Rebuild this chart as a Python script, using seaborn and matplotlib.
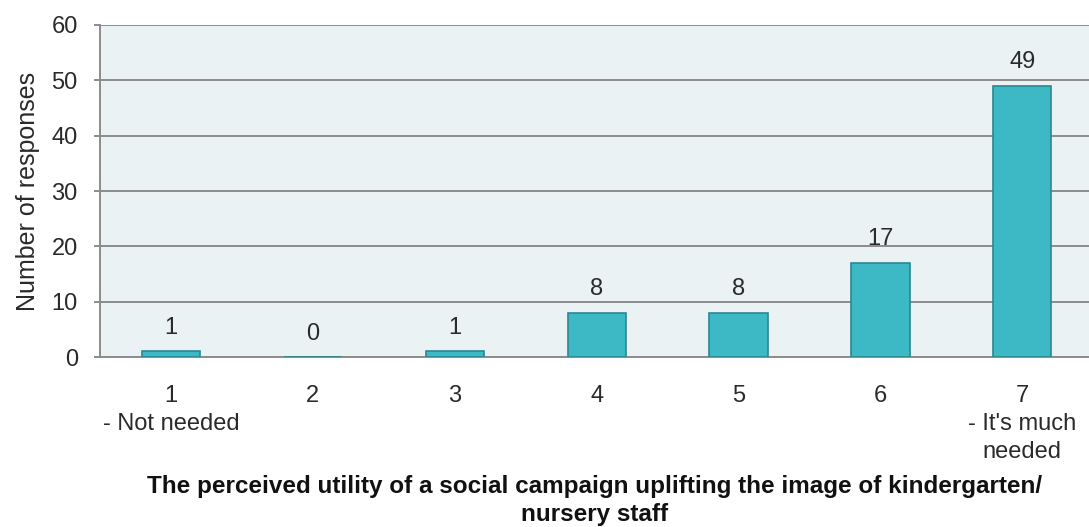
import matplotlib
matplotlib.use("Agg")
import matplotlib.pyplot as plt
import seaborn as sns
import pandas as pd

categories = ["1\n- Not needed", "2", "3", "4", "5", "6", "7\n- It's much\nneeded"]
responses = [1, 0, 1, 8, 8, 17, 49]
y_ticks = [0, 10, 20, 30, 40, 50, 60]

df = pd.DataFrame({"cat": categories, "n": responses})

sns.set_theme(style="white")
plt.rcParams["font.family"] = ["Liberation Sans", "DejaVu Sans"]

fig = plt.figure(figsize=(10.89, 5.27), dpi=100)
ax = fig.add_axes([100 / 1089, 170 / 527, 1 - 100 / 1089, 332 / 527])
ax.set_facecolor("#EAF2F4")

sns.barplot(data=df, x="cat", y="n", order=categories, color="#3DB9C5",
            saturation=1, width=0.41, edgecolor="#2A8791", linewidth=1.2, ax=ax,
            zorder=3)

ax.set_ylim(0, 60)
ax.set_xlim(-0.5, 6.47)
ax.set_yticks(y_ticks)
ax.yaxis.grid(True, color="#8C8C8C", linewidth=1.4, zorder=0)
ax.set_axisbelow(True)

for sp in ["top", "right"]:
    ax.spines[sp].set_visible(False)
for sp in ["left", "bottom"]:
    ax.spines[sp].set_color("#8C8C8C")
    ax.spines[sp].set_linewidth(1.4)

ax.tick_params(axis="y", length=4, width=1.4, color="#8C8C8C", labelsize=17,
               labelcolor="#2A2A2A", pad=12, left=True)
ax.tick_params(axis="x", length=0, labelsize=17, labelcolor="#2A2A2A", pad=20)
for lbl in ax.get_xticklabels():
    lbl.set_linespacing(1.35)

for c in ax.containers:
    ax.bar_label(c, labels=[str(v) for v in responses], padding=9,
                 fontsize=17, color="#2A2A2A")

ax.set_ylabel("Number of responses", fontsize=18, color="#2A2A2A", labelpad=8)
ax.set_xlabel("The perceived utility of a social campaign uplifting the image of kindergarten/\nnursery staff",
              fontsize=17.5, fontweight="bold", color="#111111", labelpad=9,
              linespacing=1.25)

fig.savefig("out.png", dpi=100)
